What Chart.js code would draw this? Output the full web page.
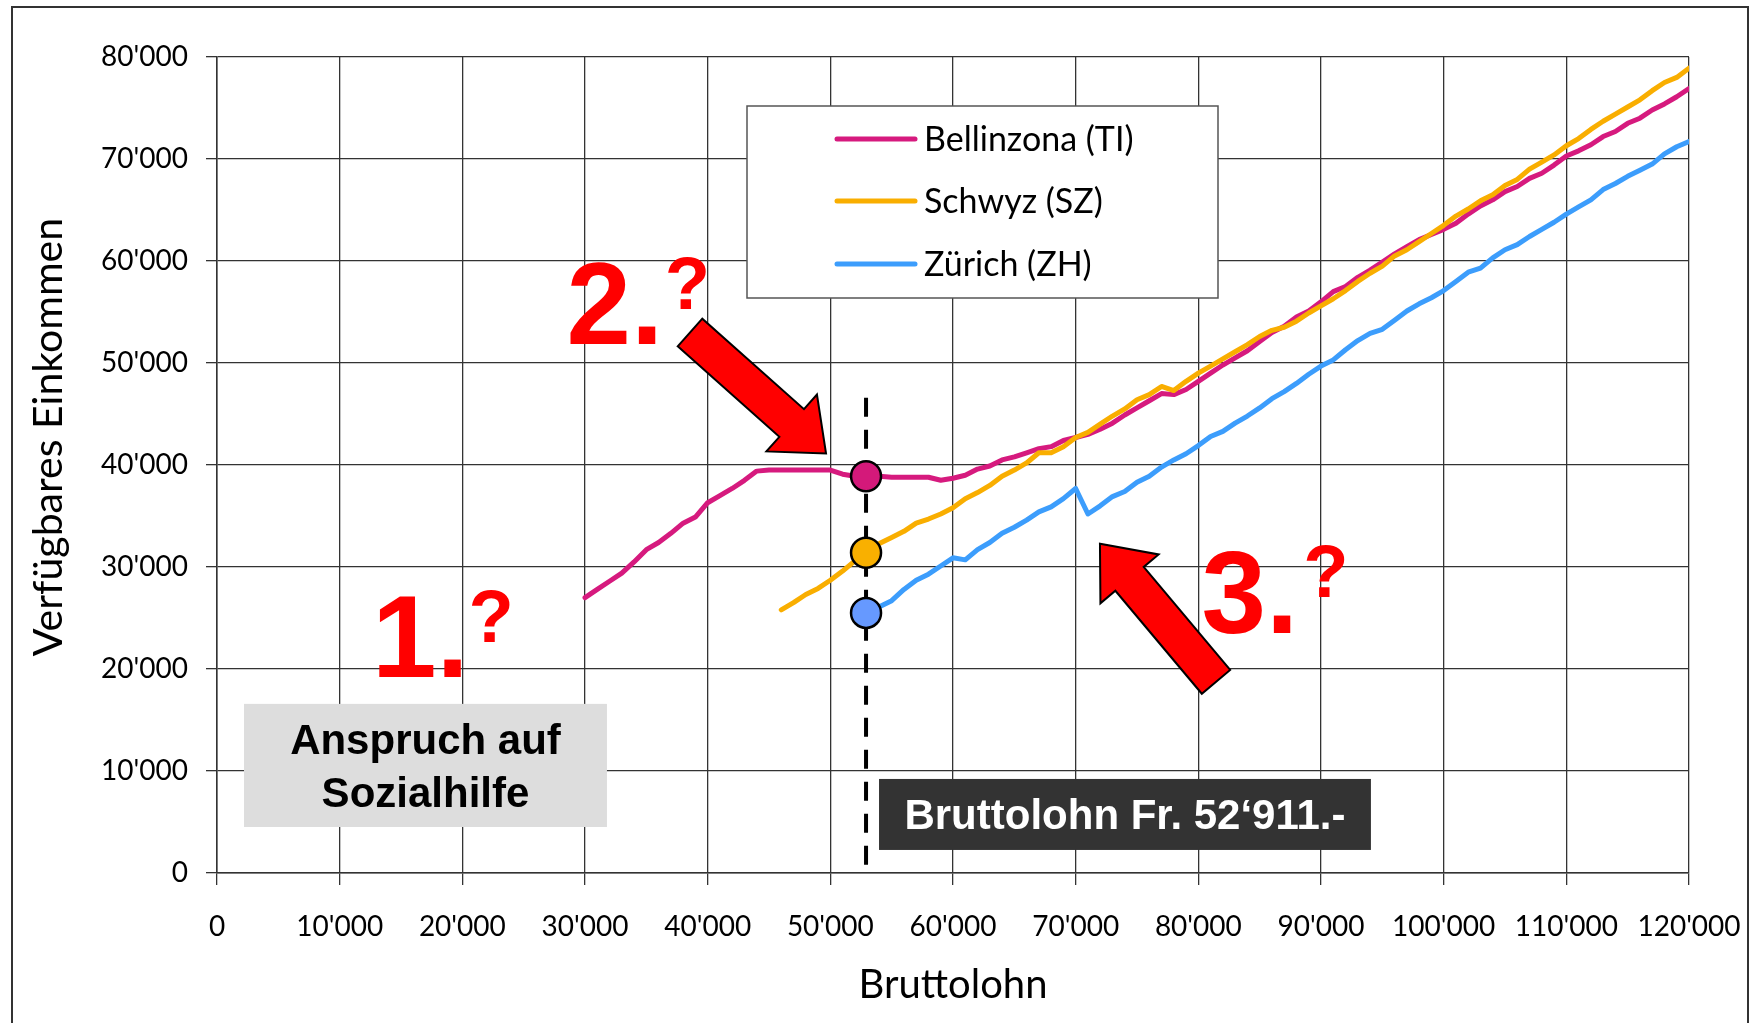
<!DOCTYPE html>
<html>
<head>
<meta charset="utf-8">
<script src="https://cdn.jsdelivr.net/npm/chart.js@4.4.0/dist/chart.umd.min.js"></script>
<style>
  html, body { margin: 0; padding: 0; background: #fff; }
  canvas { display: block; }
</style>
</head>
<body>
<canvas id="chart" width="1753" height="1023"></canvas>
<script>
// Bruttolohn (x) and verfuegbares Einkommen per Gemeinde
var bruttolohn = [
  30000, 31000, 32000, 33000, 34000, 35000, 36000, 37000, 38000, 39000,
  40000, 41000, 42000, 43000, 44000, 45000, 46000, 47000, 48000, 49000,
  50000, 51000, 52000, 53000, 54000, 55000, 56000, 57000, 58000, 59000,
  60000, 61000, 62000, 63000, 64000, 65000, 66000, 67000, 68000, 69000,
  70000, 71000, 72000, 73000, 74000, 75000, 76000, 77000, 78000, 79000,
  80000, 81000, 82000, 83000, 84000, 85000, 86000, 87000, 88000, 89000,
  90000, 91000, 92000, 93000, 94000, 95000, 96000, 97000, 98000, 99000,
  100000, 101000, 102000, 103000, 104000, 105000, 106000, 107000, 108000, 109000,
  110000, 111000, 112000, 113000, 114000, 115000, 116000, 117000, 118000, 119000,
  120000
];

var bellinzona = [
  27000, 27800, 28600, 29400, 30500, 31700, 32400, 33300, 34300, 34900,
  36300, 37000, 37700, 38500, 39400, 39500, 39500, 39500, 39500, 39500,
  39500, 39100, 38900, 38900, 38900, 38800, 38800, 38800, 38800, 38500,
  38700, 39000, 39600, 39900, 40500, 40800, 41200, 41600, 41800, 42400,
  42700, 43000, 43500, 44100, 44900, 45600, 46300, 47000, 46900, 47400,
  48200, 49000, 49800, 50500, 51200, 52100, 53000, 53600, 54500, 55100,
  56000, 57000, 57500, 58400, 59100, 59900, 60700, 61400, 62100, 62600,
  63100, 63700, 64600, 65400, 66000, 66800, 67300, 68100, 68600, 69400,
  70300, 70800, 71400, 72200, 72700, 73500, 74000, 74800, 75400, 76100,
  76900
];

var schwyz = [
  null, null, null, null, null, null, null, null, null, null,
  null, null, null, null, null, null, 25800, 26500, 27300, 27900,
  28700, 29600, 30600, 31600, 32300, 32900, 33500, 34300, 34700, 35200,
  35800, 36700, 37300, 38000, 38900, 39500, 40200, 41200, 41200, 41800,
  42700, 43200, 44000, 44800, 45500, 46400, 46900, 47700, 47300, 48200,
  49000, 49700, 50400, 51100, 51800, 52600, 53200, 53500, 54100, 54900,
  55600, 56300, 57100, 58000, 58800, 59500, 60500, 61100, 61900, 62700,
  63500, 64400, 65100, 65900, 66500, 67400, 68000, 69000, 69700, 70400,
  71300, 72000, 72900, 73700, 74400, 75100, 75800, 76700, 77500, 78000,
  78900
];

var zuerich = [
  null, null, null, null, null, null, null, null, null, null,
  null, null, null, null, null, null, null, null, null, null,
  null, null, null, 25500, 26100, 26700, 27800, 28700, 29300, 30100,
  30900, 30700, 31700, 32400, 33300, 33900, 34600, 35400, 35900, 36700,
  37700, 35200, 36000, 36900, 37400, 38300, 38900, 39800, 40500, 41100,
  41900, 42800, 43300, 44100, 44800, 45600, 46500, 47200, 48000, 48900,
  49700, 50300, 51300, 52200, 52900, 53300, 54200, 55100, 55800, 56400,
  57100, 58000, 58900, 59300, 60300, 61100, 61600, 62400, 63100, 63800,
  64600, 65300, 66000, 67000, 67600, 68300, 68900, 69500, 70500, 71200,
  71700
];

var seriesNames = ['Bellinzona (TI)', 'Schwyz (SZ)', 'Zürich (ZH)'];
var seriesColors = ['#d61a7e', '#f9ae00', '#3c9dfc'];

// the marked salary and the three values on it
var markerLohn = 52911;
var markerValues = [38900, 31400, 25500];
var markerColors = ['#d4197a', '#f9b000', '#6699ff'];
var dashTop = 46600;

var xTicks = [0, 10000, 20000, 30000, 40000, 50000, 60000, 70000, 80000, 90000, 100000, 110000, 120000];
var yTicks = [0, 10000, 20000, 30000, 40000, 50000, 60000, 70000, 80000];

function fmt(v) {
  return String(v).replace(/\B(?=(\d{3})+(?!\d))/g, "'");
}

function toPoints(values) {
  var pts = [];
  for (var i = 0; i < bruttolohn.length; i++) {
    if (values[i] !== null) pts.push({ x: bruttolohn[i], y: values[i] });
  }
  return pts;
}

// annotation anchors in data units
var arrows = [
  { from: [38560, 52990], to: [49650, 41120] },
  { from: [81440, 18740], to: [71980, 32290] }
];
var bigLabels = [
  { text: '1.', at: [12630, 19230], q: [20500, 22670] },
  { text: '2.', at: [28500, 51910], q: [36500, 55250] },
  { text: '3.', at: [80250, 23550], q: [88550, 27080] }
];
var greyBox = { x0: 2200, x1: 31790, y0: 16580, y1: 4510, lines: ['Anspruch auf', 'Sozialhilfe'] };
var darkBox = { x0: 53970, x1: 94070, y0: 9220, y1: 2260, text: 'Bruttolohn Fr. 52\u2018911.-' };

function drawArrow(ctx, tx, ty, hx, hy) {
  var dx = hx - tx, dy = hy - ty, len = Math.hypot(dx, dy);
  var ux = dx / len, uy = dy / len, nx = -uy, ny = ux;
  var sw = 18.5, hw = 38, hl = 46;
  var bx = hx - ux * hl, by = hy - uy * hl;
  var pts = [
    [tx + nx * sw, ty + ny * sw], [bx + nx * sw, by + ny * sw], [bx + nx * hw, by + ny * hw],
    [hx, hy],
    [bx - nx * hw, by - ny * hw], [bx - nx * sw, by - ny * sw], [tx - nx * sw, ty - ny * sw]
  ];
  ctx.beginPath();
  ctx.moveTo(pts[0][0], pts[0][1]);
  for (var i = 1; i < pts.length; i++) ctx.lineTo(pts[i][0], pts[i][1]);
  ctx.closePath();
  ctx.fillStyle = '#ff0000';
  ctx.fill();
  ctx.lineWidth = 2;
  ctx.strokeStyle = '#000';
  ctx.lineJoin = 'miter';
  ctx.stroke();
}

var extras = {
  id: 'extras',
  beforeDatasetsDraw: function (chart) {
    var ctx = chart.ctx, x = chart.scales.x, y = chart.scales.y;
    var px = x.getPixelForValue(markerLohn);
    ctx.save();
    ctx.strokeStyle = '#000';
    ctx.lineWidth = 4;
    ctx.setLineDash([19, 13]);
    ctx.beginPath();
    ctx.moveTo(px, y.getPixelForValue(dashTop));
    ctx.lineTo(px, y.getPixelForValue(0));
    ctx.stroke();
    ctx.restore();
  },
  afterDraw: function (chart) {
    var ctx = chart.ctx, x = chart.scales.x, y = chart.scales.y;
    var area = chart.chartArea;
    ctx.save();

    // outer frame
    ctx.strokeStyle = '#333';
    ctx.lineWidth = 2;
    ctx.strokeRect(12, 7, 1736, 1100);

    // y title
    ctx.save();
    ctx.translate(49, (area.top + area.bottom) / 2 - 28);
    ctx.rotate(-Math.PI / 2);
    ctx.fillStyle = '#000';
    ctx.font = '41px Lato';
    ctx.textAlign = 'center';
    ctx.textBaseline = 'middle';
    ctx.fillText('Verfügbares Einkommen', 0, 0);
    ctx.restore();

    // legend
    var lx = 747, ly = 106, lw = 471, lh = 192;
    ctx.fillStyle = '#fff';
    ctx.fillRect(lx, ly, lw, lh);
    ctx.strokeStyle = '#555';
    ctx.lineWidth = 1.5;
    ctx.strokeRect(lx, ly, lw, lh);
    ctx.font = '34px Lato';
    ctx.textBaseline = 'middle';
    ctx.textAlign = 'left';
    var rowY = [139, 201, 264];
    for (var i = 0; i < seriesNames.length; i++) {
      ctx.strokeStyle = seriesColors[i];
      ctx.lineWidth = 5;
      ctx.lineCap = 'round';
      ctx.beginPath();
      ctx.moveTo(837, rowY[i]);
      ctx.lineTo(915, rowY[i]);
      ctx.stroke();
      ctx.fillStyle = '#000';
      ctx.fillText(seriesNames[i], 924, rowY[i] + 1);
    }
    ctx.lineCap = 'butt';

    // grey box
    var gx0 = x.getPixelForValue(greyBox.x0), gx1 = x.getPixelForValue(greyBox.x1);
    var gy0 = y.getPixelForValue(greyBox.y0), gy1 = y.getPixelForValue(greyBox.y1);
    ctx.fillStyle = '#dddddd';
    ctx.fillRect(gx0, gy0, gx1 - gx0, gy1 - gy0);
    ctx.fillStyle = '#000';
    ctx.font = 'bold 42px "Liberation Sans"';
    ctx.textAlign = 'center';
    ctx.textBaseline = 'alphabetic';
    var gcx = (gx0 + gx1) / 2;
    ctx.fillText(greyBox.lines[0], gcx, (gy0 + gy1) / 2 - 11);
    ctx.fillText(greyBox.lines[1], gcx, (gy0 + gy1) / 2 + 42);

    // dark box
    var dx0 = x.getPixelForValue(darkBox.x0), dx1 = x.getPixelForValue(darkBox.x1);
    var dy0 = y.getPixelForValue(darkBox.y0), dy1 = y.getPixelForValue(darkBox.y1);
    ctx.fillStyle = '#333333';
    ctx.fillRect(dx0, dy0, dx1 - dx0, dy1 - dy0);
    ctx.fillStyle = '#fff';
    ctx.font = 'bold 42px "Liberation Sans"';
    ctx.fillText(darkBox.text, (dx0 + dx1) / 2, (dy0 + dy1) / 2 + 15);

    // arrows
    arrows.forEach(function (a) {
      drawArrow(ctx, x.getPixelForValue(a.from[0]), y.getPixelForValue(a.from[1]),
        x.getPixelForValue(a.to[0]), y.getPixelForValue(a.to[1]));
    });

    // numbers with question marks
    ctx.fillStyle = '#ff0000';
    ctx.textAlign = 'left';
    bigLabels.forEach(function (b) {
      ctx.font = 'bold 116px "Liberation Sans"';
      ctx.fillText(b.text, x.getPixelForValue(b.at[0]), y.getPixelForValue(b.at[1]));
      ctx.font = 'bold 74px "Liberation Sans"';
      ctx.fillText('?', x.getPixelForValue(b.q[0]), y.getPixelForValue(b.q[1]));
    });

    ctx.restore();
  }
};

var lineStyle = {
  pointRadius: 0,
  borderWidth: 5,
  tension: 0,
  fill: false,
  borderJoinStyle: 'round',
  borderCapStyle: 'round'
};

var ctx = document.getElementById('chart');
var chart = new Chart(ctx, {
  type: 'line',
  data: {
    datasets: [
      {
        label: 'Marker',
        data: markerValues.map(function (v) { return { x: markerLohn, y: v }; }),
        showLine: false,
        pointRadius: 15,
        pointHoverRadius: 15,
        pointBackgroundColor: markerColors,
        pointBorderColor: '#000',
        pointBorderWidth: 2.5,
        order: 0
      },
      Object.assign({ label: seriesNames[2], data: toPoints(zuerich), borderColor: seriesColors[2], order: 1 }, lineStyle),
      Object.assign({ label: seriesNames[1], data: toPoints(schwyz), borderColor: seriesColors[1], order: 2 }, lineStyle),
      Object.assign({ label: seriesNames[0], data: toPoints(bellinzona), borderColor: seriesColors[0], order: 3 }, lineStyle)
    ]
  },
  options: {
    responsive: false,
    animation: false,
    devicePixelRatio: 1,
    layout: { padding: { top: 57, right: 64, bottom: 0, left: 0 } },
    plugins: {
      legend: { display: false },
      tooltip: { enabled: false }
    },
    scales: {
      x: {
        type: 'linear',
        min: 0,
        max: 120000,
        afterBuildTicks: function (scale) { scale.ticks = xTicks.map(function (v) { return { value: v }; }); },
        afterFit: function (scale) {
          scale.height = 150;
          scale.paddingLeft = 0;
          scale.paddingRight = 0;
        },
        ticks: {
          callback: function (v) { return fmt(v); },
          font: { family: 'Lato', size: 28 },
          color: '#000',
          padding: 25,
          maxRotation: 0,
          autoSkip: false
        },
        grid: { color: '#333', lineWidth: 1.3, tickLength: 12 },
        border: { color: '#333', width: 1.5 },
        title: {
          display: true,
          text: 'Bruttolohn',
          font: { family: 'Lato', size: 40 },
          color: '#000',
          padding: { top: 0, bottom: 14 }
        }
      },
      y: {
        type: 'linear',
        min: 0,
        max: 80000,
        afterBuildTicks: function (scale) { scale.ticks = yTicks.map(function (v) { return { value: v }; }); },
        afterFit: function (scale) {
          scale.width = 217;
          scale.paddingTop = 0;
          scale.paddingBottom = 0;
        },
        ticks: {
          callback: function (v) { return fmt(v); },
          font: { family: 'Lato', size: 28 },
          color: '#000',
          padding: 18
        },
        grid: { color: '#333', lineWidth: 1.3, tickLength: 11 },
        border: { color: '#333', width: 1.5 }
      }
    }
  },
  plugins: [extras]
});
</script>
</body>
</html>
